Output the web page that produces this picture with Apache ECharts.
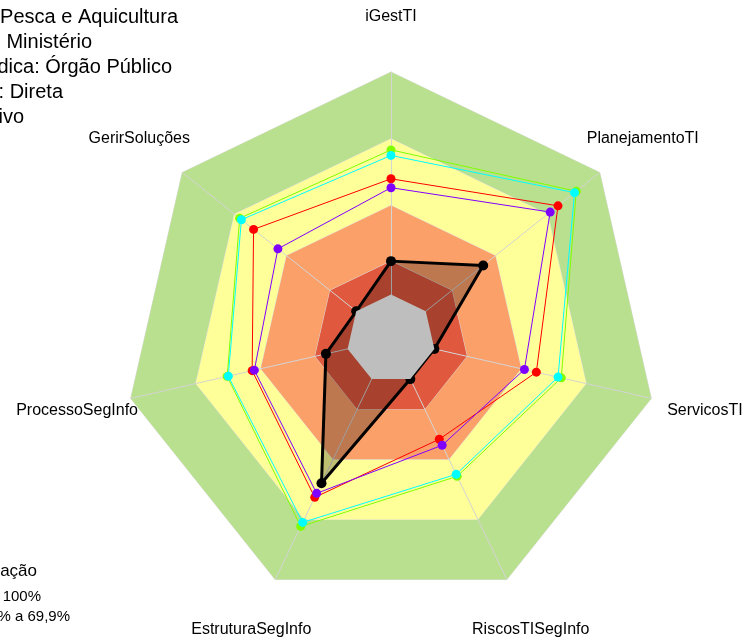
<!DOCTYPE html>
<html>
<head>
<meta charset="utf-8">
<script src="https://cdn.jsdelivr.net/npm/echarts@6/dist/echarts.min.js"></script>
<style>
  html, body { margin: 0; padding: 0; background: #fff; }
  #chart { width: 744px; height: 641px; }
</style>
</head>
<body>
<div id="chart"></div>
<script>
// dimensões do radar (ordem anti-horária a partir do topo)
const indicadores = ['iGestTI', 'GerirSoluções', 'ProcessoSegInfo', 'EstruturaSegInfo', 'RiscosTISegInfo', 'ServicosTI', 'PlanejamentoTI'];

// valores em %
const entidade = [15, 0, 10, 52, 0, 0, 33];
const serieVermelha = [52, 59, 44, 59, 30, 47, 76];
const serieVerde = [65, 67, 55.5, 73.5, 48.5, 58.5, 86.5];
const serieCiano = [62.5, 66, 55, 71.5, 47.5, 57, 85.5];
const serieRoxa = [48, 45, 43, 57, 33, 41.5, 71.5];

// faixas de classificação (limite superior de cada faixa)
const faixas = [100, 70, 40, 15, 0];
const coresFaixas = ['#B9E08F', '#FFFF99', '#FCA06A', '#E0583E', '#BEBEBE'];

// textos do cabeçalho e da legenda (cortados à esquerda no original)
const cabecalho = ['Órgão: Ministério da Pesca e Aquicultura', 'Tipo: Ministério', 'Natureza Jurídica: Órgão Público', 'Administração: Direta', 'Poder: Executivo'];
const legenda = ['Classificação', '70% a 100%', '40% a 69,9%'];

const fonte = '"Liberation Sans", Arial, sans-serif';

function serieDados(nome, valores, cor, z) {
	return {
		type: 'radar', name: nome, z: z, silent: true,
		symbol: 'circle', symbolSize: 9,
		itemStyle: { color: cor },
		lineStyle: { color: cor, width: 1 },
		data: [{ value: valores }]
	};
}

const series = [];
faixas.forEach((lim, i) => {
	series.push({
		type: 'radar', z: 1 + i * 0.01, silent: true, symbol: 'none',
		lineStyle: { color: '#dcdcdc', width: 1 },
		areaStyle: { color: coresFaixas[i], opacity: 1 },
		data: [{ value: indicadores.map(() => lim) }]
	});
});
// o centro cinza fica por cima do preenchimento da entidade
series[faixas.length - 1].z = 4;
series[faixas.length - 1].lineStyle = { width: 0 };

series.push({
	type: 'radar', name: 'Entidade', z: 3, silent: true,
	symbol: 'circle', symbolSize: 10,
	itemStyle: { color: '#000' },
	lineStyle: { color: '#000', width: 3 },
	areaStyle: { color: '#000', opacity: 0.25 },
	data: [{ value: entidade }]
});
series.push(serieDados('Vermelha', serieVermelha, '#FF0000', 5));
series.push(serieDados('Verde', serieVerde, '#80FF00', 5));
series.push(serieDados('Ciano', serieCiano, '#00FFFF', 5));
series.push(serieDados('Roxa', serieRoxa, '#8000FF', 5));

const cabX = [178, 92, 172, 63, 24];
const textos = [];
cabecalho.forEach((t, i) => {
	textos.push({ type: 'text', x: cabX[i], y: 17 + i * 25,
		style: { text: t, align: 'right', verticalAlign: 'middle', font: '20px ' + fonte, fill: '#000' } });
});
const legX = [37, 41, 70];
const legY = [571, 597, 617];
legenda.forEach((t, i) => {
	textos.push({ type: 'text', x: legX[i], y: legY[i],
		style: { text: t, align: 'right', verticalAlign: 'middle', font: (i === 0 ? '17px ' : '15px ') + fonte, fill: '#000' } });
});

const chart = echarts.init(document.getElementById('chart'));
chart.setOption({
	animation: false,
	radar: {
		z: 2,
		center: [391, 339],
		radius: 267,
		startAngle: 90,
		shape: 'polygon',
		splitNumber: 6,
		axisNameGap: 55,
		axisName: { color: '#000', fontSize: 16, fontFamily: fonte, align: 'center', verticalAlign: 'middle' },
		indicator: indicadores.map(n => ({ name: n, min: -20, max: 100 })),
		axisLine: { lineStyle: { color: '#d4d4d4', width: 1 } },
		splitLine: { show: false },
		splitArea: { show: false },
		axisTick: { show: false },
		axisLabel: { show: false }
	},
	graphic: textos,
	series: series
});
</script>
</body>
</html>
